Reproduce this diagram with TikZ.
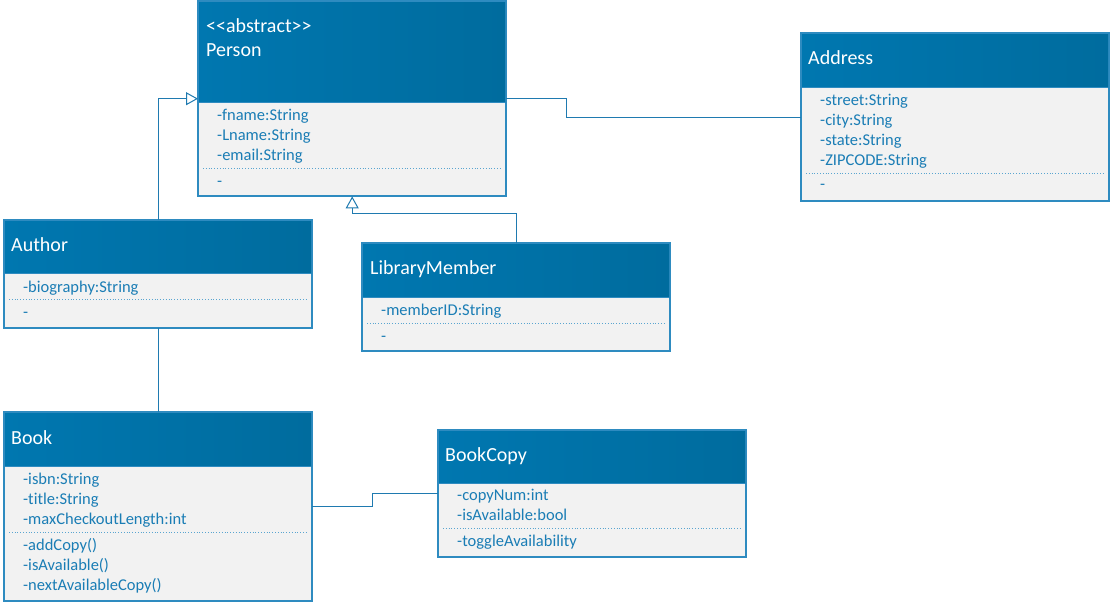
\documentclass[tikz,border=0pt]{standalone}
\usepackage{fontspec}
\setmainfont{Carlito}[Ligatures={NoCommon}]
\usetikzlibrary{arrows.meta,calc}
\definecolor{hdrL}{HTML}{0077B0}
\definecolor{hdrM}{HTML}{0083BB}
\definecolor{hdrR}{HTML}{006C9E}
\definecolor{bodyfill}{HTML}{F2F2F2}
\definecolor{boxline}{HTML}{2E8BC0}
\definecolor{txtblue}{HTML}{1A7DB5}
\definecolor{conn}{HTML}{1F7AB0}
\definecolor{dotc}{HTML}{5AA5D0}
\tikzset{
  classbox/.style={draw=boxline, line width=1.4pt, fill=bodyfill, anchor=north west, inner sep=0pt},
  hdr/.style={left color=hdrL, middle color=hdrM, right color=hdrR, draw=none},
  title/.style={anchor=west, inner sep=0pt, text=white, font=\fontsize{20}{22}\selectfont, text height=14pt, text depth=4.5pt},
  attr/.style={anchor=west, inner sep=0pt, text=txtblue, font=\fontsize{16.5}{19}\selectfont, text height=11.5pt, text depth=4pt},
  sep/.style={dotc, dotted, line width=0.8pt},
  connector/.style={conn, line width=1pt},
  gen/.style={connector, -{Triangle[open, length=12pt, width=13pt, fill=white]}}
}
\begin{document}
\begin{tikzpicture}[x=1pt, y=-1pt]
\useasboundingbox (0,0) rectangle (1110,603);

% ---------- Person ----------
\node[classbox, minimum width=307pt, minimum height=194pt] (person) at (198,1) {};
\fill[hdr] (198,1) rectangle (505,102);
\draw[boxline, line width=1.4pt] (person.north west) rectangle (person.south east);
\draw[boxline, line width=1pt] (198,102) -- (505,102);
\node[title] (pst) at (206,28) {{<}{<}abstract{>}{>}};
\node[title] (pname) at (206,52) {Person};
\node[attr] (pa1) at (217,117) {-fname:String};
\node[attr] (pa2) at (217,137) {-Lname:String};
\node[attr] (pa3) at (217,157) {-email:String};
\draw[sep] (203,168) -- (500,168);
\node[attr] (pm1) at (217,183) {-};

% ---------- Address ----------
\node[classbox, minimum width=307pt, minimum height=167pt] (address) at (801,33) {};
\fill[hdr] (801,33) rectangle (1108,87);
\draw[boxline, line width=1.4pt] (address.north west) rectangle (address.south east);
\draw[boxline, line width=1pt] (801,87) -- (1108,87);
\node[title] (aname) at (808,60) {Address};
\node[attr] (aa1) at (820,102) {-street:String};
\node[attr] (aa2) at (820,122) {-city:String};
\node[attr] (aa3) at (820,142) {-state:String};
\node[attr] (aa4) at (820,162) {-ZIPCODE:String};
\draw[sep] (806,173) -- (1103,173);
\node[attr] (am1) at (820,186) {-};

% ---------- Author ----------
\node[classbox, minimum width=307pt, minimum height=107pt] (author) at (4,220) {};
\fill[hdr] (4,220) rectangle (311,273);
\draw[boxline, line width=1.4pt] (author.north west) rectangle (author.south east);
\draw[boxline, line width=1pt] (4,273) -- (311,273);
\node[title] (auname) at (11,247) {Author};
\node[attr] (aua1) at (23,289) {-biography:String};
\draw[sep] (9,299) -- (306,299);
\node[attr] (aum1) at (23,314) {-};

% ---------- LibraryMember ----------
\node[classbox, minimum width=307pt, minimum height=107pt] (member) at (362,243) {};
\fill[hdr] (362,243) rectangle (669,297);
\draw[boxline, line width=1.4pt] (member.north west) rectangle (member.south east);
\draw[boxline, line width=1pt] (362,297) -- (669,297);
\node[title] (lname) at (370,270) {LibraryMember};
\node[attr] (la1) at (381,312) {-memberID:String};
\draw[sep] (367,323) -- (664,323);
\node[attr] (lm1) at (381,338) {-};

% ---------- Book ----------
\node[classbox, minimum width=307pt, minimum height=188pt] (book) at (4,412) {};
\fill[hdr] (4,412) rectangle (311,466);
\draw[boxline, line width=1.4pt] (book.north west) rectangle (book.south east);
\draw[boxline, line width=1pt] (4,466) -- (311,466);
\node[title] (bname) at (11,440) {Book};
\node[attr] (ba1) at (23,481) {-isbn:String};
\node[attr] (ba2) at (23,501) {-title:String};
\node[attr] (ba3) at (23,521) {-maxCheckoutLength:int};
\draw[sep] (9,532) -- (306,532);
\node[attr] (bm1) at (23,547) {-addCopy()};
\node[attr] (bm2) at (23,567) {-isAvailable()};
\node[attr] (bm3) at (23,587) {-nextAvailableCopy()};

% ---------- BookCopy ----------
\node[classbox, minimum width=307pt, minimum height=126pt] (bookcopy) at (438,430) {};
\fill[hdr] (438,430) rectangle (745,483);
\draw[boxline, line width=1.4pt] (bookcopy.north west) rectangle (bookcopy.south east);
\draw[boxline, line width=1pt] (438,483) -- (745,483);
\node[title] (cname) at (445,457) {BookCopy};
\node[attr] (ca1) at (457,497) {-copyNum:int};
\node[attr] (ca2) at (457,517) {-isAvailable:bool};
\draw[sep] (443,528) -- (740,528);
\node[attr] (cm1) at (457,543) {-toggleAvailability};

% ---------- Connectors ----------
\draw[gen] (author.north) |- (person.west);
\draw[gen] (member.north) -- ++(0,-30) -| (person.south);
\draw[connector] (person.east) -- ++(60,0) |- (address.west);
\draw[connector] (author.south) -- (book.north);
\draw[connector] (book.east) -- ++(60,0) |- (bookcopy.west);
\end{tikzpicture}
\end{document}
